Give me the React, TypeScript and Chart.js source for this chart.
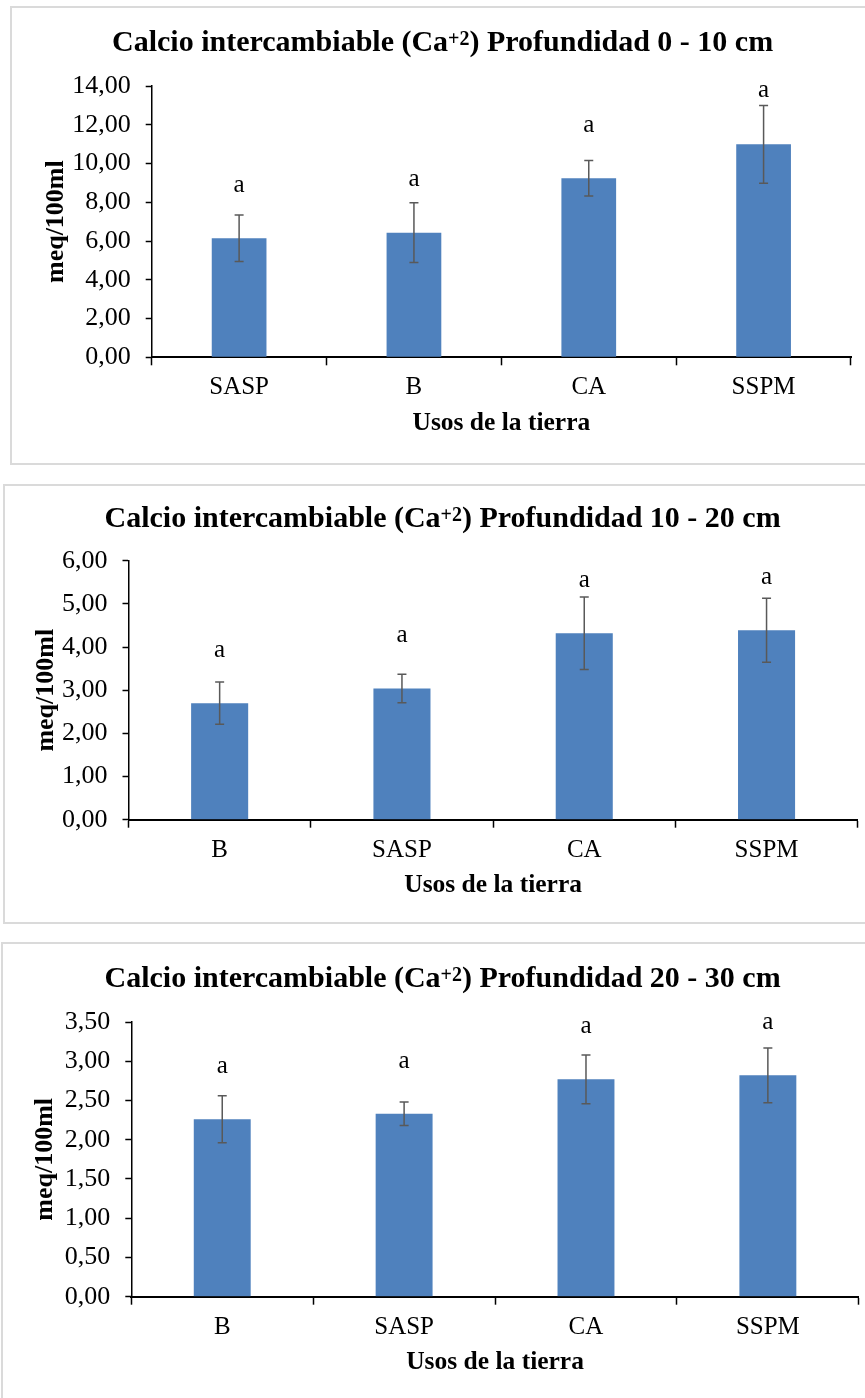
import React, { useEffect, useRef } from 'react';
import { Chart, registerables } from 'chart.js';

Chart.register(...registerables);

// ---- data -------------------------------------------------------------
const depth0to10Categories = ['SASP', 'B', 'CA', 'SSPM'];
const depth0to10Means = [6.14, 6.43, 9.24, 10.99];
const depth0to10Errors = [1.2, 1.54, 0.92, 2.01];
const depth0to10Letters = ['a', 'a', 'a', 'a'];
const depth0to10YTicks = [0, 2, 4, 6, 8, 10, 12, 14];

const depth10to20Categories = ['B', 'SASP', 'CA', 'SSPM'];
const depth10to20Means = [2.7, 3.04, 4.32, 4.39];
const depth10to20Errors = [0.49, 0.33, 0.84, 0.74];
const depth10to20Letters = ['a', 'a', 'a', 'a'];
const depth10to20YTicks = [0, 1, 2, 3, 4, 5, 6];

const depth20to30Categories = ['B', 'SASP', 'CA', 'SSPM'];
const depth20to30Means = [2.26, 2.33, 2.77, 2.82];
const depth20to30Errors = [0.3, 0.15, 0.31, 0.35];
const depth20to30Letters = ['a', 'a', 'a', 'a'];
const depth20to30YTicks = [0, 0.5, 1, 1.5, 2, 2.5, 3, 3.5];

const titleLead = 'Calcio intercambiable (Ca';
const titleSup = '+2';
const titleDepths = ['0 - 10 cm', '10 - 20 cm', '20 - 30 cm'];
const xAxisTitle = 'Usos de la tierra';
const yAxisTitle = 'meq/100ml';

// ---- styling ----------------------------------------------------------
const SERIF = '"Liberation Serif", "Times New Roman", Times, serif';
const BAR_COLOR = '#4F81BD';
const ERR_COLOR = '#595959';
const PAGE_W = 865;
const X_AXIS_H = 81;

type Layout = {
  top: number;
  height: number;
  left: number;
  right: number;
  plotTop: number;
  plotBottom: number;
  yTitleX: number;
  titleY: number;
  frame: { left: number; top: number; right: number; bottom: number };
};

const layouts: Layout[] = [
  { top: 0, height: 470, left: 151.7, right: 851, plotTop: 86, plotBottom: 357.3, yTitleX: 56, titleY: 41.3,
    frame: { left: 10.7, top: 6.7, right: 874, bottom: 464 } },
  { top: 470, height: 460, left: 128.5, right: 857.7, plotTop: 90.7, plotBottom: 349.7, yTitleX: 46.5, titleY: 47.3,
    frame: { left: 4, top: 485, right: 881, bottom: 922.7 } },
  { top: 930, height: 468, left: 131.3, right: 858.8, plotTop: 92, plotBottom: 366.7, yTitleX: 45.5, titleY: 47.3,
    frame: { left: 2, top: 942.7, right: 883, bottom: 1420 } },
];

const fmt = (v: number) => v.toFixed(2).replace('.', ',');

// Chart heading with a superscript charge, centred on the frame.
const headingPlugin = {
  id: 'heading',
  afterDraw(chart: any, _a: any, opts: any) {
    const { ctx } = chart;
    const main = `bold 30px ${SERIF}`;
    const small = `bold 20px ${SERIF}`;
    const tail = ') Profundidad ' + opts.depth;
    ctx.save();
    ctx.fillStyle = '#000';
    ctx.textBaseline = 'alphabetic';
    ctx.textAlign = 'left';
    ctx.font = main;
    const w1 = ctx.measureText(titleLead).width;
    const w3 = ctx.measureText(tail).width;
    ctx.font = small;
    const w2 = ctx.measureText(titleSup).width;
    let x = opts.cx - (w1 + w2 + w3) / 2;
    const base = opts.y + 9.9;
    ctx.font = main;
    ctx.fillText(titleLead, x, base);
    x += w1;
    ctx.font = small;
    ctx.fillText(titleSup, x, base - 6);
    x += w2;
    ctx.font = main;
    ctx.fillText(tail, x, base);
    ctx.restore();
  },
};

// Standard-error whiskers and significance letters above each bar.
const whiskerPlugin = {
  id: 'whiskers',
  afterDatasetsDraw(chart: any, _a: any, opts: any) {
    const { ctx } = chart;
    const y = chart.scales.y;
    const meta = chart.getDatasetMeta(0);
    ctx.save();
    meta.data.forEach((bar: any, i: number) => {
      const mean = opts.means[i];
      const err = opts.errors[i];
      const yTop = y.getPixelForValue(mean + err);
      const yBot = y.getPixelForValue(mean - err);
      const yBar = y.getPixelForValue(mean);
      const x = bar.x;
      const cap = 4.5;
      ctx.strokeStyle = ERR_COLOR;
      ctx.lineWidth = 1.5;
      ctx.beginPath();
      ctx.moveTo(x, yTop);
      ctx.lineTo(x, yBot);
      ctx.moveTo(x - cap, yTop);
      ctx.lineTo(x + cap, yTop);
      ctx.moveTo(x - cap, yBot);
      ctx.lineTo(x + cap, yBot);
      ctx.stroke();

      const letterY = Math.min(yBar - 52, yTop - 14);
      ctx.fillStyle = '#000';
      ctx.font = `25px ${SERIF}`;
      ctx.textAlign = 'center';
      ctx.textBaseline = 'alphabetic';
      ctx.fillText(opts.letters[i], x, letterY + 5.7);
    });
    ctx.restore();
  },
};

type PanelProps = {
  layout: Layout;
  depth: string;
  categories: string[];
  means: number[];
  errors: number[];
  letters: string[];
  yTicks: number[];
};

function Panel({ layout, depth, categories, means, errors, letters, yTicks }: PanelProps) {
  const ref = useRef<HTMLCanvasElement>(null);

  useEffect(() => {
    const step = yTicks[1] - yTicks[0];
    const chart = new Chart(ref.current as HTMLCanvasElement, {
      type: 'bar',
      data: {
        labels: categories,
        datasets: [
          {
            data: means,
            backgroundColor: BAR_COLOR,
            borderWidth: 0,
            barPercentage: 0.313,
            categoryPercentage: 1,
          },
        ],
      },
      plugins: [headingPlugin, whiskerPlugin],
      options: {
        responsive: false,
        animation: false,
        devicePixelRatio: 1,
        layout: {
          padding: {
            left: 0,
            top: layout.plotTop,
            right: PAGE_W - layout.right,
            bottom: layout.height - layout.plotBottom - X_AXIS_H,
          },
        },
        plugins: {
          legend: { display: false },
          tooltip: { enabled: false },
          title: { display: false },
          heading: { depth, cx: 442.6, y: layout.titleY },
          whiskers: { means, errors, letters },
        } as any,
        scales: {
          x: {
            type: 'category',
            offset: true,
            grid: {
              display: true,
              offset: true,
              drawOnChartArea: false,
              drawTicks: true,
              tickLength: 8,
              tickWidth: 1.5,
              color: '#000',
            },
            border: { display: true, color: '#000', width: 2 },
            ticks: {
              color: '#000',
              font: { family: SERIF, size: 25 },
              padding: 7.5,
              maxRotation: 0,
              autoSkip: false,
            },
            title: {
              display: true,
              text: xAxisTitle,
              color: '#000',
              font: { family: SERIF, size: 25.5, weight: 'bold' },
              padding: { top: 0, bottom: 0 },
            },
            afterFit: (s: any) => {
              s.height = X_AXIS_H;
            },
          },
          y: {
            min: yTicks[0],
            max: yTicks[yTicks.length - 1],
            grid: {
              display: true,
              drawOnChartArea: false,
              drawTicks: true,
              tickLength: 6,
              tickWidth: 1.5,
              color: '#000',
            },
            border: { display: true, color: '#000', width: 1.5 },
            ticks: {
              stepSize: step,
              color: '#000',
              font: { family: SERIF, size: 26 },
              padding: 15,
              callback: (v: any) => fmt(Number(v)),
            },
            title: {
              display: true,
              text: yAxisTitle,
              color: '#000',
              font: { family: SERIF, size: 26, weight: 'bold' },
              padding: { top: layout.yTitleX - 15.6, bottom: 0 },
            },
            afterFit: (s: any) => {
              s.width = layout.left;
            },
          },
        },
      } as any,
    });
    return () => chart.destroy();
  }, []);

  const f = layout.frame;
  return (
    <>
      <div
        style={{
          position: 'absolute',
          left: f.left - 1,
          top: f.top - 1,
          width: f.right - f.left + 2,
          height: f.bottom - f.top + 2,
          border: '2px solid #dadada',
          boxSizing: 'border-box',
        }}
      />
      <canvas
        ref={ref}
        width={PAGE_W}
        height={layout.height}
        style={{ position: 'absolute', left: 0, top: layout.top, width: PAGE_W, height: layout.height }}
      />
    </>
  );
}

export default function App() {
  return (
    <div
      style={{
        position: 'absolute',
        left: 0,
        top: 0,
        width: PAGE_W,
        height: 1398,
        overflow: 'hidden',
        background: '#fff',
      }}
    >
      <Panel
        layout={layouts[0]}
        depth={titleDepths[0]}
        categories={depth0to10Categories}
        means={depth0to10Means}
        errors={depth0to10Errors}
        letters={depth0to10Letters}
        yTicks={depth0to10YTicks}
      />
      <Panel
        layout={layouts[1]}
        depth={titleDepths[1]}
        categories={depth10to20Categories}
        means={depth10to20Means}
        errors={depth10to20Errors}
        letters={depth10to20Letters}
        yTicks={depth10to20YTicks}
      />
      <Panel
        layout={layouts[2]}
        depth={titleDepths[2]}
        categories={depth20to30Categories}
        means={depth20to30Means}
        errors={depth20to30Errors}
        letters={depth20to30Letters}
        yTicks={depth20to30YTicks}
      />
    </div>
  );
}
